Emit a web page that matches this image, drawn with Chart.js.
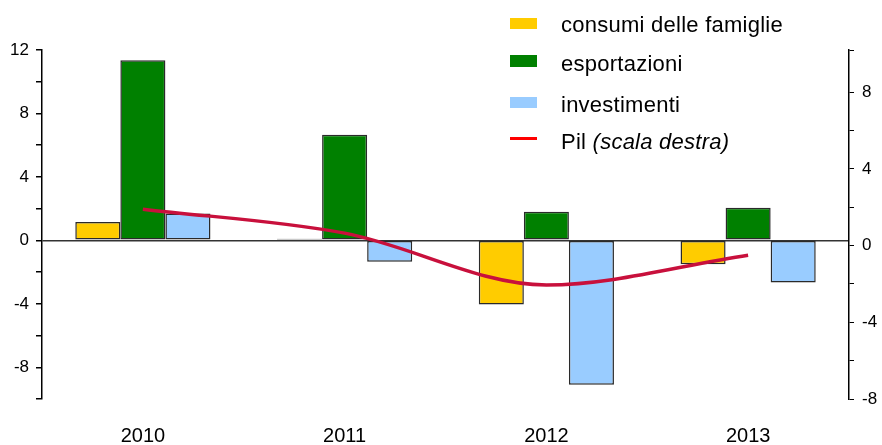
<!DOCTYPE html>
<html>
<head>
<meta charset="utf-8">
<script src="https://cdn.jsdelivr.net/npm/chart.js@4.4.1/dist/chart.umd.min.js"></script>
<style>
  html, body { margin: 0; padding: 0; background: #fff; }
  #wrap { position: relative; width: 882px; height: 445px; font-family: "Liberation Sans", Arial, sans-serif; }
  canvas { position: absolute; left: 0; top: 0; }
  .sw { position: absolute; left: 510px; width: 27px; }
  .lt { position: absolute; left: 561px; font-size: 22px; line-height: 22px; color: #000; white-space: nowrap; letter-spacing: 0.25px; }
</style>
</head>
<body>
<div id="wrap">
  <canvas id="c" width="882" height="445"></canvas>
  <div class="sw" style="top:18px;height:11px;background:#FFCC00"></div>
  <div class="lt" style="top:14px">consumi delle famiglie</div>
  <div class="sw" style="top:55px;height:12px;background:#008000"></div>
  <div class="lt" style="top:53px">esportazioni</div>
  <div class="sw" style="top:97px;height:11px;background:#99CCFF"></div>
  <div class="lt" style="top:94px">investimenti</div>
  <div class="sw" style="top:137px;height:3px;background:#FF0000"></div>
  <div class="lt" style="top:131px">Pil <i>(scala destra)</i></div>
</div>
<script>
const categories = ['2010', '2011', '2012', '2013'];
const consumi = [1.15, 0.1, -4.05, -1.5];
const esportazioni = [11.35, 6.65, 1.8, 2.05];
const investimenti = [1.7, -1.35, -9.1, -2.65];
const pil = [1.9, 0.65, -2.05, -0.5];
const seriesNames = ['consumi delle famiglie', 'esportazioni', 'investimenti', 'Pil (scala destra)'];

const FONT = '"Liberation Sans", Arial, sans-serif';

const barCommon = {
  type: 'bar',
  borderColor: '#2a2a2a',
  borderWidth: 1.5,
  borderSkipped: false,
  categoryPercentage: 0.67,
  barPercentage: 1.0,
  yAxisID: 'y',
  order: 1
};

new Chart(document.getElementById('c'), {
  type: 'bar',
  data: {
    labels: categories,
    datasets: [
      Object.assign({ label: seriesNames[0], data: consumi, backgroundColor: '#FFCC00' }, barCommon),
      Object.assign({ label: seriesNames[1], data: esportazioni, backgroundColor: '#008000' }, barCommon),
      Object.assign({ label: seriesNames[2], data: investimenti, backgroundColor: '#99CCFF' }, barCommon),
      {
        type: 'line',
        label: seriesNames[3],
        data: pil,
        yAxisID: 'y1',
        borderColor: '#C8103C',
        borderWidth: 3.5,
        pointRadius: 0,
        cubicInterpolationMode: 'monotone',
        fill: false,
        order: 0
      }
    ]
  },
  options: {
    responsive: false,
    animation: false,
    devicePixelRatio: 1,
    layout: { padding: { top: 50, left: 0, right: 0, bottom: 0 } },
    plugins: { legend: { display: false }, tooltip: { enabled: false } },
    scales: {
      x: {
        offset: true,
        grid: { display: false, drawTicks: false },
        border: { display: false },
        ticks: { color: '#000', font: { family: FONT, size: 20 }, padding: 25 },
        afterFit: s => { s.height = 46; }
      },
      y: {
        position: 'left',
        min: -10,
        max: 12,
        ticks: {
          stepSize: 2,
          color: '#000',
          font: { family: FONT, size: 17 },
          padding: 7,
          callback: v => (v % 4 === 0 ? String(v) : '')
        },
        grid: {
          color: ctx => (ctx.tick && ctx.tick.value === 0 ? '#333' : 'rgba(0,0,0,0)'),
          tickColor: '#000',
          tickLength: 6,
          lineWidth: 1.5
        },
        border: { display: true, color: '#000', width: 1.5 },
        afterFit: s => { s.width = 42; }
      },
      y1: {
        position: 'right',
        min: -8,
        max: 10.2,
        ticks: {
          stepSize: 2,
          color: '#000',
          font: { family: FONT, size: 17 },
          padding: 8,
          callback: v => (v % 4 === 0 ? String(v) : '')
        },
        grid: { drawOnChartArea: false, tickColor: '#000', tickLength: 5 },
        border: { display: true, color: '#000', width: 1.5 },
        afterFit: s => { s.width = 33; }
      }
    }
  }
});
</script>
</body>
</html>
